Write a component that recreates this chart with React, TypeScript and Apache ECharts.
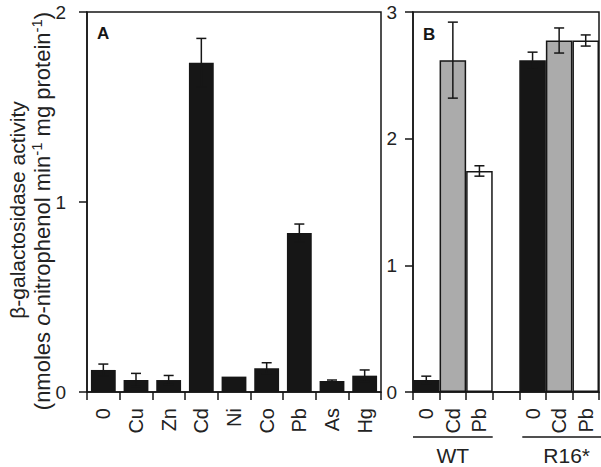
import React, { useEffect, useRef } from 'react';
import * as echarts from 'echarts';

// Panel A: metals
const metalsA = ['0', 'Cu', 'Zn', 'Cd', 'Ni', 'Co', 'Pb', 'As', 'Hg'];
const activityA = [0.116, 0.063, 0.063, 1.733, 0.081, 0.125, 0.837, 0.058, 0.086];
const errorA = [0.031, 0.035, 0.024, 0.128, 0, 0.029, 0.047, 0.005, 0.03];
const ticksA = [0, 1, 2];

// Panel B: strains x treatments ('' = gap between strains)
const treatmentsB = ['0', 'Cd', 'Pb', '', '0', 'Cd', 'Pb'];
const activityB: (number | null)[] = [0.095, 2.62, 1.745, null, 2.62, 2.775, 2.775];
const errorB: (number | null)[] = [0.03, 0.3, 0.041, null, 0.063, 0.099, 0.044];
const ticksB = [0, 1, 2, 3];
const strainsB = ['WT', 'R16*'];
const strainSlots = [[0, 2], [4, 6]];

const fillByTreatment: Record<string, string> = { '0': '#161616', Cd: '#ababab', Pb: '#ffffff' };

const INK = '#161616';
const FONT = '"Liberation Sans", Arial, sans-serif';

function errorRender(params: any, api: any) {
  const i = api.value(0);
  const v = api.value(1);
  const e = api.value(2);
  const top = api.coord([i, v + e]);
  const bot = api.coord([i, v - e]);
  const half = 5;
  const style = { stroke: INK, lineWidth: 1.5 };
  return {
    type: 'group',
    children: [
      { type: 'line', shape: { x1: top[0], y1: top[1], x2: bot[0], y2: bot[1] }, style },
      { type: 'line', shape: { x1: top[0] - half, y1: top[1], x2: top[0] + half, y2: top[1] }, style },
      { type: 'line', shape: { x1: bot[0] - half, y1: bot[1], x2: bot[0] + half, y2: bot[1] }, style },
    ],
  };
}

export default function App() {
  const ref = useRef<HTMLDivElement>(null);
  useEffect(() => {
    if (!ref.current) return;
    const chart = echarts.init(ref.current, undefined, { renderer: 'svg' });
    const axisLineStyle = { color: INK, width: 1.5 };
    const labelStyle = { fontSize: 19, color: '#222', fontFamily: FONT };

    const errDataA = activityA
      .map((v, i) => [i, v, errorA[i]])
      .filter((d) => (d[2] as number) > 0);
    const errDataB = activityB
      .map((v, i) => [i, v, errorB[i]])
      .filter((d) => d[1] != null && d[2] != null);

    const option: any = {
      animation: false,
      grid: [
        { left: 87, top: 12, width: 294, height: 380, show: true, borderColor: INK, borderWidth: 1.5 },
        { left: 413, top: 12, width: 186, height: 380, show: true, borderColor: INK, borderWidth: 1.5 },
      ],
      xAxis: [
        {
          type: 'category',
          gridIndex: 0,
          data: metalsA,
          axisLine: { lineStyle: axisLineStyle },
          axisTick: { show: true, length: 8, alignWithLabel: false, lineStyle: axisLineStyle },
          axisLabel: { ...labelStyle, fontSize: 20, rotate: 90, margin: 16, interval: 0 },
        },
        {
          type: 'category',
          gridIndex: 1,
          data: treatmentsB,
          axisLine: { lineStyle: axisLineStyle },
          axisTick: { show: true, length: 8, alignWithLabel: false, interval: 0, lineStyle: axisLineStyle },
          axisLabel: { ...labelStyle, fontSize: 20, rotate: 90, margin: 16, interval: 0 },
        },
      ],
      yAxis: [
        {
          type: 'value',
          gridIndex: 0,
          min: ticksA[0],
          max: ticksA[ticksA.length - 1],
          interval: ticksA[1] - ticksA[0],
          axisLine: { show: true, lineStyle: axisLineStyle },
          axisTick: { show: true, length: 8, lineStyle: axisLineStyle },
          axisLabel: { ...labelStyle, margin: 21 },
          splitLine: { show: false },
        },
        {
          type: 'value',
          gridIndex: 1,
          min: ticksB[0],
          max: ticksB[ticksB.length - 1],
          interval: ticksB[1] - ticksB[0],
          axisLine: { show: true, lineStyle: axisLineStyle },
          axisTick: { show: true, length: 8, lineStyle: axisLineStyle },
          axisLabel: { ...labelStyle, margin: 16 },
          splitLine: { show: false },
        },
      ],
      series: [
        {
          type: 'bar',
          xAxisIndex: 0,
          yAxisIndex: 0,
          data: activityA,
          barWidth: '76%',
          itemStyle: { color: INK },
        },
        {
          type: 'custom',
          xAxisIndex: 0,
          yAxisIndex: 0,
          data: errDataA,
          encode: { x: 0, y: 1 },
          renderItem: errorRender,
          z: 5,
        },
        {
          type: 'bar',
          xAxisIndex: 1,
          yAxisIndex: 1,
          barWidth: '100%',
          data: activityB.map((v, i) => ({
            value: v,
            itemStyle: { color: fillByTreatment[treatmentsB[i]] || '#fff', borderColor: INK, borderWidth: 1.5 },
          })),
        },
        {
          type: 'custom',
          xAxisIndex: 1,
          yAxisIndex: 1,
          data: errDataB,
          encode: { x: 0, y: 1 },
          renderItem: errorRender,
          z: 5,
        },
      ],
    };
    chart.setOption(option);

    const px = (i: number) => chart.convertToPixel({ xAxisIndex: 1 }, i) as number;
    const slot = px(1) - px(0);
    const lineY = 437;
    const groupGraphics: any[] = [];
    strainSlots.forEach(([a, b], k) => {
      const x1 = px(a) - slot / 2 + (k === 1 ? 3 : 0);
      const x2 = px(b) + slot / 2 + (k === 1 ? 2 : 0);
      groupGraphics.push({
        type: 'line',
        shape: { x1, y1: lineY, x2, y2: lineY },
        style: { stroke: INK, lineWidth: 1.5 },
      });
      groupGraphics.push({
        type: 'text',
        x: (x1 + x2) / 2 + (k === 1 ? 5 : 0),
        y: 455,
        style: {
          text: strainsB[k],
          fill: '#222',
          font: `21px ${FONT}`,
          align: 'center',
          verticalAlign: 'middle',
        },
      });
    });

    chart.setOption({
      graphic: [
        {
          type: 'text',
          x: 17,
          y: 210,
          rotation: Math.PI / 2,
          style: {
            text: 'β-galactosidase activity',
            fill: '#222',
            font: `21px ${FONT}`,
            align: 'center',
            verticalAlign: 'middle',
          },
        },
        {
          type: 'text',
          x: 41,
          y: 211,
          rotation: Math.PI / 2,
          style: {
            text: '{n|(nmoles }{i|o}{n|-nitrophenol min}{s|-1}{n| mg protein}{s|-1}{n|)}',
            fill: '#222',
            align: 'center',
            verticalAlign: 'middle',
            rich: {
              n: { fontSize: 22, fontFamily: FONT, fill: '#222', lineHeight: 25, verticalAlign: 'bottom' },
              i: { fontSize: 22, fontFamily: FONT, fontStyle: 'italic', fill: '#222', lineHeight: 25, verticalAlign: 'bottom' },
              s: { fontSize: 15, fontFamily: FONT, fill: '#222', lineHeight: 25, verticalAlign: 'top' },
            },
          },
        },
        { type: 'text', x: 97, y: 25, style: { text: 'A', fill: INK, font: `bold 17px ${FONT}` } },
        { type: 'text', x: 423, y: 26, style: { text: 'B', fill: INK, font: `bold 17px ${FONT}` } },
        ...groupGraphics,
      ],
    });

    return () => chart.dispose();
  }, []);
  return (
    <div
      ref={ref}
      style={{ position: 'fixed', left: 0, top: 0, width: 601, height: 467, background: '#fff' }}
    />
  );
}
